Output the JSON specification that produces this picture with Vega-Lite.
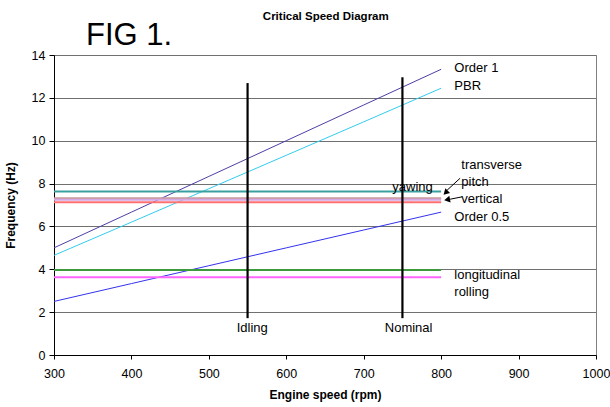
{
  "$schema": "https://vega.github.io/schema/vega-lite/v6.json",
  "width": 542,
  "height": 300,
  "autosize": {"type": "none"},
  "padding": {"left": 54, "top": 55, "right": 14, "bottom": 52},
  "background": "white",
  "config": {
    "font": "Liberation Sans",
    "view": {"stroke": "#808080", "strokeWidth": 1},
    "axis": {
      "labelFont": "Liberation Sans",
      "labelFontSize": 12.5,
      "labelColor": "black",
      "titleFont": "Liberation Sans",
      "titleFontSize": 12,
      "titleFontWeight": "bold",
      "titleColor": "black",
      "domainColor": "black",
      "tickColor": "black",
      "gridColor": "#707070",
      "gridOpacity": 1
    }
  },
  "datasets": {
    "diag": [
      {"series": "Order 1", "rpm": 300, "hz": 5.0},
      {"series": "Order 1", "rpm": 400, "hz": 6.667},
      {"series": "Order 1", "rpm": 500, "hz": 8.333},
      {"series": "Order 1", "rpm": 600, "hz": 10.0},
      {"series": "Order 1", "rpm": 700, "hz": 11.667},
      {"series": "Order 1", "rpm": 800, "hz": 13.333},
      {"series": "PBR", "rpm": 300, "hz": 4.65},
      {"series": "PBR", "rpm": 400, "hz": 6.2},
      {"series": "PBR", "rpm": 500, "hz": 7.76},
      {"series": "PBR", "rpm": 600, "hz": 9.32},
      {"series": "PBR", "rpm": 700, "hz": 10.88},
      {"series": "PBR", "rpm": 800, "hz": 12.45},
      {"series": "Order 0.5", "rpm": 300, "hz": 2.5},
      {"series": "Order 0.5", "rpm": 400, "hz": 3.333},
      {"series": "Order 0.5", "rpm": 500, "hz": 4.167},
      {"series": "Order 0.5", "rpm": 600, "hz": 5.0},
      {"series": "Order 0.5", "rpm": 700, "hz": 5.833},
      {"series": "Order 0.5", "rpm": 800, "hz": 6.667}
    ],
    "modes": [
      {"series": "yawing", "rpm": 300, "rpm2": 800, "hz": 7.63},
      {"series": "transverse", "rpm": 300, "rpm2": 800, "hz": 7.32},
      {"series": "pitch", "rpm": 300, "rpm2": 800, "hz": 7.24},
      {"series": "vertical", "rpm": 300, "rpm2": 800, "hz": 7.13},
      {"series": "longitudinal", "rpm": 300, "rpm2": 800, "hz": 3.97},
      {"series": "rolling", "rpm": 300, "rpm2": 800, "hz": 3.63}
    ],
    "speeds": [
      {"name": "Idling", "rpm": 550, "lo": 1.72, "hi": 12.69},
      {"name": "Nominal", "rpm": 750, "lo": 1.72, "hi": 12.96}
    ],
    "labels": [
      {"text": "Order 1", "rpm": 817, "hz": 13.38},
      {"text": "PBR", "rpm": 817, "hz": 12.54},
      {"text": "transverse", "rpm": 826, "hz": 8.86},
      {"text": "pitch", "rpm": 826, "hz": 8.07},
      {"text": "vertical", "rpm": 826, "hz": 7.27},
      {"text": "Order 0.5", "rpm": 817, "hz": 6.45},
      {"text": "yawing", "rpm": 737, "hz": 7.83},
      {"text": "longitudinal", "rpm": 817, "hz": 3.73},
      {"text": "rolling", "rpm": 817, "hz": 2.95}
    ],
    "speedLabels": [
      {"text": "Idling", "rpm": 556, "hz": 1.26},
      {"text": "Nominal", "rpm": 758, "hz": 1.26}
    ],
    "arrows": [
      {"arrow": "transverse", "rpm": 824.5, "hz": 8.25, "rpm2": 807.7, "hz2": 7.69},
      {"arrow": "vertical", "rpm": 827, "hz": 7.38, "rpm2": 811.6, "hz2": 7.27}
    ],
    "heads": [
      {"arrow": "transverse", "rpm": 805.8, "hz": 7.58},
      {"arrow": "vertical", "rpm": 807.7, "hz": 7.25}
    ],
    "titles": [
      {"text": "FIG 1.", "rpm": 397, "hz": 14.45},
      {"text": "Critical Speed Diagram", "rpm": 651, "hz": 15.65}
    ]
  },
  "layer": [
    {
      "data": {"name": "diag"},
      "mark": {"type": "line", "strokeWidth": 1},
      "encoding": {
        "x": {
          "field": "rpm", "type": "quantitative",
          "scale": {"domain": [300, 1000], "nice": false, "zero": false},
          "axis": {"title": "Engine speed (rpm)", "values": [300, 400, 500, 600, 700, 800, 900, 1000], "format": "d", "grid": false, "tickSize": 4, "labelPadding": 8, "titlePadding": 10, "labelFlush": false}
        },
        "y": {
          "field": "hz", "type": "quantitative",
          "scale": {"domain": [0, 14], "nice": false},
          "axis": {"title": "Frequency (Hz)", "values": [0, 2, 4, 6, 8, 10, 12, 14], "grid": true, "tickSize": 5, "labelPadding": 4, "titlePadding": 14}
        },
        "color": {
          "field": "series", "type": "nominal",
          "scale": {"domain": ["Order 1", "PBR", "Order 0.5"], "range": ["#4b3fa6", "#33ccee", "#3333ee"]},
          "legend": null
        },
        "detail": {"field": "series"}
      }
    },
    {
      "data": {"name": "modes"},
      "mark": {"type": "rule", "strokeWidth": 2},
      "encoding": {
        "x": {"field": "rpm", "type": "quantitative"},
        "x2": {"field": "rpm2"},
        "y": {"field": "hz", "type": "quantitative"},
        "stroke": {
          "field": "series", "type": "nominal",
          "scale": {"domain": ["yawing", "transverse", "pitch", "vertical", "longitudinal", "rolling"], "range": ["#3a9f9f", "#c89a9a", "#d2a8e6", "#ff7070", "#3c9a3c", "#ff66ff"]},
          "legend": null
        }
      }
    },
    {
      "data": {"name": "speeds"},
      "mark": {"type": "rule", "strokeWidth": 2.2, "color": "black"},
      "encoding": {
        "x": {"field": "rpm", "type": "quantitative"},
        "y": {"field": "lo", "type": "quantitative"},
        "y2": {"field": "hi"}
      }
    },
    {
      "data": {"name": "arrows"},
      "mark": {"type": "rule", "strokeWidth": 1, "color": "black"},
      "encoding": {
        "x": {"field": "rpm", "type": "quantitative"},
        "y": {"field": "hz", "type": "quantitative"},
        "x2": {"field": "rpm2"},
        "y2": {"field": "hz2"}
      }
    },
    {
      "data": {"name": "heads"},
      "transform": [{"filter": "datum.arrow === 'transverse'"}],
      "mark": {"type": "point", "shape": "triangle-up", "filled": true, "color": "black", "opacity": 1, "size": 45, "angle": 225},
      "encoding": {
        "x": {"field": "rpm", "type": "quantitative"},
        "y": {"field": "hz", "type": "quantitative"}
      }
    },
    {
      "data": {"name": "heads"},
      "transform": [{"filter": "datum.arrow === 'vertical'"}],
      "mark": {"type": "point", "shape": "triangle-up", "filled": true, "color": "black", "opacity": 1, "size": 45, "angle": 259},
      "encoding": {
        "x": {"field": "rpm", "type": "quantitative"},
        "y": {"field": "hz", "type": "quantitative"}
      }
    },
    {
      "data": {"name": "labels"},
      "mark": {"type": "text", "align": "left", "baseline": "middle", "fontSize": 13, "font": "Liberation Sans", "color": "black"},
      "encoding": {
        "x": {"field": "rpm", "type": "quantitative"},
        "y": {"field": "hz", "type": "quantitative"},
        "text": {"field": "text"}
      }
    },
    {
      "data": {"name": "speedLabels"},
      "mark": {"type": "text", "align": "center", "baseline": "middle", "fontSize": 13, "font": "Liberation Sans", "color": "black"},
      "encoding": {
        "x": {"field": "rpm", "type": "quantitative"},
        "y": {"field": "hz", "type": "quantitative"},
        "text": {"field": "text"}
      }
    },
    {
      "data": {"name": "titles"},
      "transform": [{"filter": "datum.text === 'FIG 1.'"}],
      "mark": {"type": "text", "align": "center", "baseline": "alphabetic", "fontSize": 31, "font": "Liberation Sans", "color": "black"},
      "encoding": {
        "x": {"field": "rpm", "type": "quantitative"},
        "y": {"field": "hz", "type": "quantitative"},
        "text": {"field": "text"}
      }
    },
    {
      "data": {"name": "titles"},
      "transform": [{"filter": "datum.text !== 'FIG 1.'"}],
      "mark": {"type": "text", "align": "center", "baseline": "alphabetic", "fontSize": 11.5, "fontWeight": "bold", "font": "Liberation Sans", "color": "black"},
      "encoding": {
        "x": {"field": "rpm", "type": "quantitative"},
        "y": {"field": "hz", "type": "quantitative"},
        "text": {"field": "text"}
      }
    }
  ]
}
